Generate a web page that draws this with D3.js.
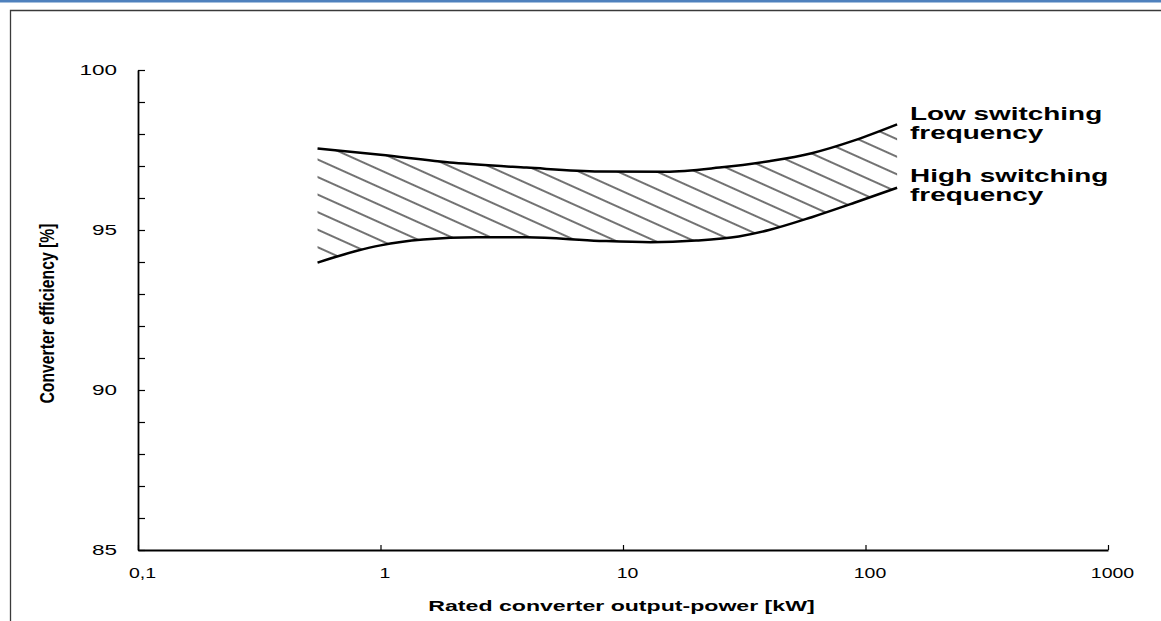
<!DOCTYPE html>
<html>
<head>
	<meta charset="utf-8">
	<title>Converter efficiency</title>
	<script type="text/javascript" src="https://cdn.jsdelivr.net/npm/d3@7"></script>
	<style>
		body { margin: 0; background: #fff; }
		text { font-family: "Liberation Sans", Arial, sans-serif; fill: #000; }
	</style>
</head>
<body>

<div id="chart"></div>

<script type="text/javascript">
// values (kW, %)
const lowFreqKW  = [0.55, 1.0, 2.0, 4.0, 8.0, 15, 25, 40, 60, 90, 135];
const lowFreqEff = [97.55, 97.35, 97.1, 96.95, 96.83, 96.82, 96.95, 97.15, 97.4, 97.8, 98.3];

const highFreqKW  = [0.55, 0.8, 1.0, 1.5, 2.5, 4.0, 8.0, 13, 20, 30, 40, 60, 90, 135];
const highFreqEff = [93.98, 94.35, 94.52, 94.7, 94.77, 94.77, 94.66, 94.62, 94.67, 94.8, 95.0, 95.4, 95.85, 96.32];

const xTicks = [0.1, 1, 10, 100, 1000];
const xTickLabels = ["0,1", "1", "10", "100", "1000"];
const yTicks = [85, 90, 95, 100];
const yTickLabels = ["85", "90", "95", "100"];

const seriesLabels = [["Low switching", "frequency"], ["High switching", "frequency"]];

const margin = {top: 70, right: 53, bottom: 71, left: 138},
    width = 1161 - margin.left - margin.right,
    height = 621 - margin.top - margin.bottom;

const x = d3.scaleLog()
    .domain([0.1, 1000])
    .range([0, width]);

const y = d3.scaleLinear()
    .domain([85, 100])
    .range([height, 0]);

const root = d3.select("#chart").append("svg")
    .attr("width", 1161)
    .attr("height", 621)
    .style("display", "block");

// the picture is stretched sideways, so text gets stretched too
function stretch(sel, factor) {
    sel.each(function() {
        const w = this.getComputedTextLength();
        d3.select(this)
            .attr("textLength", w * factor)
            .attr("lengthAdjust", "spacingAndGlyphs");
    });
}

// page frame
root.append("rect")
    .attr("x", 0).attr("y", 0)
    .attr("width", 1161).attr("height", 2.5)
    .attr("fill", "#4f81bd");
root.append("path")
    .attr("d", "M10.5,621V10.5H1161")
    .attr("fill", "none")
    .attr("stroke", "#3a3a3a")
    .attr("stroke-width", 1.3);

const svg = root.append("g")
    .attr("transform", "translate(" + margin.left + "," + margin.top + ")");

// hatch pattern
const defs = root.append("defs");
const pattern = defs.append("pattern")
    .attr("id", "hatch")
    .attr("patternUnits", "userSpaceOnUse")
    .attr("width", 20)
    .attr("height", 16)
    .attr("patternTransform", "rotate(24.2)");
pattern.append("line")
    .attr("x1", 0).attr("x2", 20)
    .attr("y1", 8).attr("y2", 8)
    .attr("stroke", "#000")
    .attr("stroke-width", 1.1);

const lowData = d3.zip(lowFreqKW, lowFreqEff);
const highData = d3.zip(highFreqKW, highFreqEff);

const line = d3.line()
    .x(function(d) { return x(d[0]); })
    .y(function(d) { return y(d[1]); })
    .curve(d3.curveMonotoneX);

// band between the two curves
const bandPath = line(lowData) + "L" + line(highData.slice().reverse()).slice(1) + "Z";
svg.append("path")
    .attr("d", bandPath)
    .attr("fill", "url(#hatch)")
    .attr("stroke", "none");

svg.selectAll(".curve")
    .data([lowData, highData])
    .enter().append("path")
    .attr("class", "curve")
    .attr("d", line)
    .attr("fill", "none")
    .attr("stroke", "#000")
    .attr("stroke-width", 2.5);

// y axis
const yAxis = svg.append("g")
    .call(d3.axisLeft(y)
        .tickValues(d3.range(85, 101))
        .tickSizeInner(-7)
        .tickSizeOuter(0)
        .tickPadding(21)
        .tickFormat(function(d) {
            const i = yTicks.indexOf(d);
            return i < 0 ? "" : yTickLabels[i];
        }));
yAxis.select(".domain").attr("stroke-width", 1.8);
yAxis.selectAll(".tick line").attr("stroke-width", 1.2);
yAxis.selectAll(".tick text")
    .attr("font-family", "'Liberation Sans', Arial, sans-serif")
    .attr("font-size", 15)
    .call(stretch, 1.5);

// x axis
const xAxis = svg.append("g")
    .attr("transform", "translate(0," + height + ")")
    .call(d3.axisBottom(x)
        .tickValues(xTicks)
        .tickSizeInner(-5)
        .tickSizeOuter(0)
        .tickPadding(17)
        .tickFormat(function(d, i) { return xTickLabels[i]; }));
xAxis.select(".domain").attr("stroke-width", 1.8);
xAxis.selectAll(".tick line").attr("stroke-width", 1.2);
xAxis.selectAll(".tick text")
    .attr("font-family", "'Liberation Sans', Arial, sans-serif")
    .attr("font-size", 15)
    .attr("dx", 4)
    .call(stretch, 1.3);

// axis titles
svg.append("text")
    .attr("x", 483.5)
    .attr("y", height + 61)
    .attr("text-anchor", "middle")
    .style("font-weight", "bold")
    .style("font-size", "15px")
    .text("Rated converter output-power [kW]")
    .call(stretch, 1.54);

root.append("text")
    .attr("transform", "translate(54,313.5) scale(1.3,1) rotate(-90)")
    .attr("text-anchor", "middle")
    .style("font-weight", "bold")
    .style("font-size", "16px")
    .text("Converter efficiency [%]")
    .attr("textLength", 180)
    .attr("lengthAdjust", "spacingAndGlyphs");

// series labels next to the curve ends
const labelBase = [120, 182];
seriesLabels.forEach(function(lines, k) {
    const t = root.append("text")
        .attr("x", 910)
        .attr("y", labelBase[k])
        .style("font-weight", "bold")
        .style("font-size", "18px");
    lines.forEach(function(s, j) {
        t.append("tspan")
            .attr("x", 910)
            .attr("dy", j === 0 ? 0 : 18.7)
            .text(s);
    });
    t.selectAll("tspan").call(stretch, 1.55);
});
</script>

</body>
</html>
